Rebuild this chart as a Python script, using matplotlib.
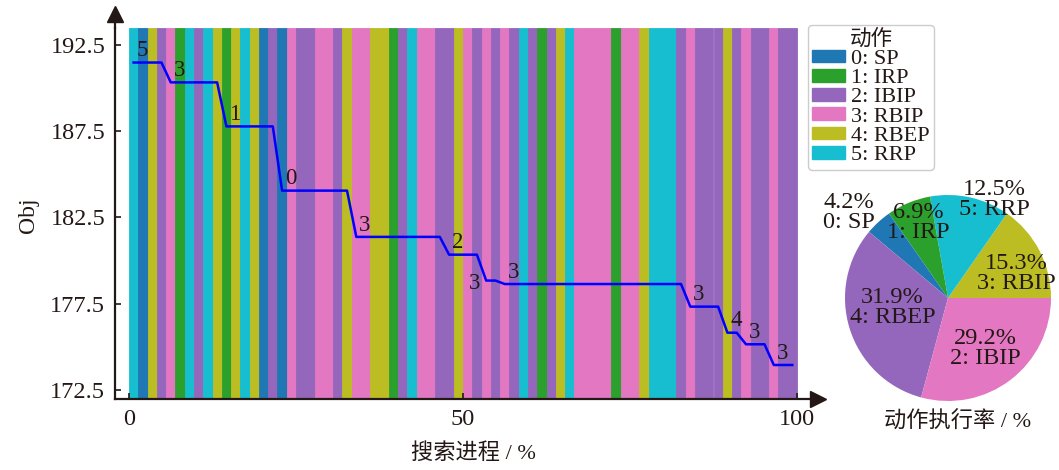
import matplotlib
matplotlib.use('Agg')
import matplotlib.pyplot as plt
from matplotlib.patches import Patch
import numpy as np

plt.rcParams['font.family'] = ['Liberation Serif', 'Noto Sans CJK SC']

# action names / colours (index = action id)
action_names = ['SP', 'IRP', 'IBIP', 'RBIP', 'RBEP', 'RRP']
action_colors = ['#1f77b4', '#2ca02c', '#9467bd', '#e377c2', '#bcbd22', '#17becf']

# action chosen at every search step (72 steps)
actions = [5, 0, 4, 2, 3, 1, 5, 2, 5, 4,
           1, 4, 5, 4, 0, 2, 0, 3, 2, 2,
           3, 3, 2, 4, 3, 3, 4, 4, 1, 2,
           5, 3, 3, 2, 2, 4, 3, 2, 3, 2,
           3, 2, 5, 2, 1, 2, 4, 5, 3, 3,
           3, 3, 1, 3, 3, 4, 5, 5, 5, 2,
           3, 2, 2, 2, 4, 2, 3, 2, 2, 3,
           2, 2]

# best objective after every step
obj = [191.47, 191.47, 191.47, 191.47, 190.32, 190.32, 190.32, 190.32, 190.32, 190.32,
       187.77, 187.77, 187.77, 187.77, 187.77, 187.77, 184.05, 184.05, 184.05, 184.05,
       184.05, 184.05, 184.05, 184.05, 181.37, 181.37, 181.37, 181.37, 181.37, 181.37,
       181.37, 181.37, 181.37, 181.37, 180.34, 180.34, 180.34, 180.34, 178.84, 178.84,
       178.64, 178.64, 178.64, 178.64, 178.64, 178.64, 178.64, 178.64, 178.64, 178.64,
       178.64, 178.64, 178.64, 178.64, 178.64, 178.64, 178.64, 178.64, 178.64, 178.64,
       177.33, 177.33, 177.33, 177.33, 175.82, 175.82, 175.15, 175.15, 175.15, 173.95,
       173.95, 173.95]

# pie chart (as printed): share per action colour, and the label text shown
pie_pct = [4.2, 6.9, 31.9, 29.2, 15.3, 12.5]
pie_text = ['0: SP', '1: IRP', '4: RBEP', '2: IBIP', '3: RBIP', '5: RRP']
pie_order = [4, 5, 1, 0, 2, 3]

yticks = [172.5, 177.5, 182.5, 187.5, 192.5]
xticks = [0, 50, 100]

dark = '#231815'
W, H = 1059, 470
fig = plt.figure(figsize=(W / 100, H / 100), dpi=100)

# ---- main panel
ax = fig.add_axes([115 / W, 71 / H, 695 / W, 371 / H])
n = len(actions)
w = 100 / n
for i, a in enumerate(actions):
    ax.axvspan(i * w, (i + 1) * w, facecolor=action_colors[a],
               edgecolor=action_colors[a], lw=0.6)

x = (np.arange(n) + 0.5) * w
ax.plot(x, obj, color='#0000ff', lw=1.8, zorder=3)

marks = [0] + [i for i in range(1, n) if obj[i] < obj[i - 1]]
below = [38]
for i in marks:
    if i in below:
        ax.annotate(str(actions[i]), (x[i], obj[i]), xytext=(-4, -2),
                    textcoords='offset points', ha='right', va='center',
                    fontsize=16.5, color=dark, zorder=4)
    else:
        ax.annotate(str(actions[i]), (x[i], obj[i]), xytext=(2, 1),
                    textcoords='offset points', ha='left', va='bottom',
                    fontsize=16.5, color=dark, zorder=4)

ax.set_xlim(-14 / 6.68, 681 / 6.68)
ax.set_ylim(171.98, 193.47)
ax.set_xticks(xticks)
ax.set_yticks(yticks)
ax.set_yticklabels([f'{v:.1f}' for v in yticks])
ax.tick_params(direction='in', length=4, width=1.2, color=dark,
               labelcolor=dark, labelsize=17.5, pad=7)
for s in ['top', 'right']:
    ax.spines[s].set_visible(False)
for s in ['left', 'bottom']:
    ax.spines[s].set_color(dark)
    ax.spines[s].set_linewidth(1.6)
# axis arrows
ax.plot([0, 0], [1, 1.02], color=dark, lw=1.6, transform=ax.transAxes, clip_on=False)
ax.plot(0, 1.0364, marker='^', ms=11, color=dark, transform=ax.transAxes, clip_on=False)
ax.plot(1.0108, 0, marker='>', ms=11, color=dark, transform=ax.transAxes, clip_on=False)

fig.text(28 / W, 1 - 215 / H, 'Obj', rotation=90, ha='center', va='center',
         fontsize=17, color=dark)
fig.text(473 / W, 1 - 453 / H, '搜索进程 / %', ha='center', va='center',
         fontsize=16, color=dark)

# ---- legend
handles = [Patch(color=c) for c in action_colors]
labels = [f'{k}: {nm}' for k, nm in enumerate(action_names)]
leg = fig.legend(handles, labels, title='动作', loc='upper left',
                 bbox_to_anchor=(808 / W, 1 - 25 / H), fontsize=16,
                 title_fontsize=15.5, labelspacing=0.0, handlelength=1.45,
                 handleheight=0.5, handletextpad=0.3, borderpad=0.2,
                 borderaxespad=0, frameon=True, fancybox=True, framealpha=1)
leg.get_frame().set_edgecolor('#cccccc')
for t in leg.get_texts():
    t.set_color(dark)
leg.get_title().set_color(dark)

# ---- pie
R = 103
cx, cy = 948, 298
pax = fig.add_axes([(cx - 1.25 * R) / W, (H - cy - 1.25 * R) / H, 2.5 * R / W, 2.5 * R / H])
vals = [pie_pct[k] for k in pie_order]
cols = [action_colors[k] for k in pie_order]
pax.pie(vals, colors=cols, startangle=0, counterclock=True, radius=1)
pax.set_xlim(-1.25, 1.25)
pax.set_ylim(-1.25, 1.25)
# label anchor (in radius units) for each action colour
lab_pos = {0: (-0.96, 0.83), 1: (-0.29, 0.73), 2: (-0.54, -0.09),
           3: (0.36, -0.49), 4: (0.66, 0.24), 5: (0.45, 0.96)}
for k in pie_order:
    px, py = lab_pos[k]
    pax.text(px, py, f'{pie_pct[k]}%\n{pie_text[k]}', ha='center', va='center',
             fontsize=17.5, color=dark, linespacing=0.95)

fig.text(958 / W, 1 - 422 / H, '动作执行率 / %', ha='center', va='center',
         fontsize=16, color=dark)

fig.savefig('out.png', dpi=100)
